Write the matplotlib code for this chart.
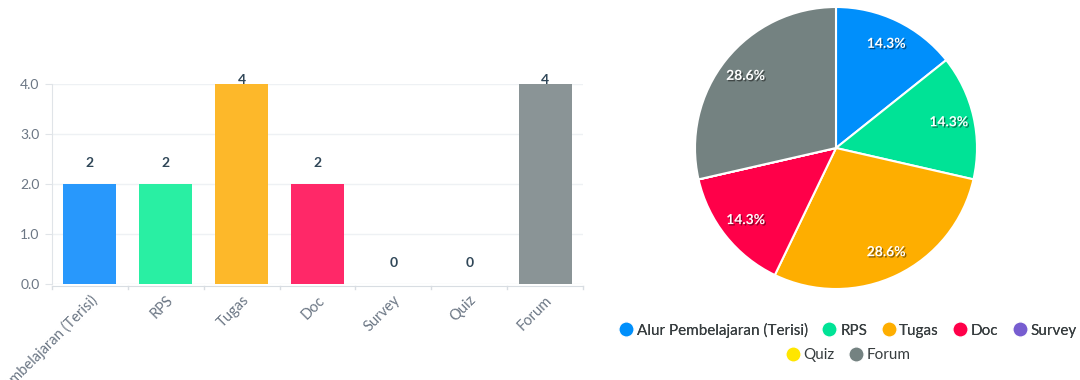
import matplotlib
matplotlib.use('Agg')
import matplotlib.pyplot as plt
import matplotlib.patheffects as pe
from matplotlib.lines import Line2D
import numpy as np

plt.rcParams['font.family'] = ['Lato', 'DejaVu Sans']

## data
categories = ['Alur Pembelajaran (Terisi)', 'RPS', 'Tugas', 'Doc', 'Survey', 'Quiz', 'Forum']
values = [2, 2, 4, 2, 0, 0, 4]
y_ticks = [0.0, 1.0, 2.0, 3.0, 4.0]
bar_colors = ['#2898fc', '#29efa3', '#fdb82a', '#ff2868', '#8a6fd6', '#ffe826', '#8a9496']
pie_colors = ['#008ffb', '#00e396', '#feae00', '#ff0049', '#775dd0', '#ffe600', '#748281']

fig = plt.figure(figsize=(10.8, 3.8), dpi=100)

## bar chart
ax = fig.add_axes([52/1080, 96/380, 531/1080, 200/380])
# spines first (set_position resets the ticks)
for s in ['top', 'right']:
    ax.spines[s].set_visible(False)
ax.spines['left'].set_color('#e0e4e8')
ax.spines['bottom'].set_color('#d8dde2')
ax.spines['bottom'].set_position(('data', -0.04))

x = np.arange(len(categories))
ax.bar(x, values, width=0.7, color=bar_colors)
# tick marks between categories
for b in np.arange(len(categories) + 1) - 0.5:
    ax.plot([b, b], [-0.04, -0.1], color='#d8dde2', lw=1, clip_on=False)
ax.set_xlim(-0.5, len(categories) - 0.5)
ax.set_ylim(0, 4)
ax.set_yticks(y_ticks)
ax.set_yticklabels(['%.1f' % t for t in y_ticks], color='#6b7684', fontsize=10)
ax.set_xticks(x)
ax.set_xticklabels(categories, rotation=45, ha='right', rotation_mode='anchor',
                   color='#6b7684', fontsize=10.5)
ax.tick_params(axis='x', length=0, pad=5)
ax.tick_params(axis='y', length=5, color='#e0e4e8', pad=4)
ax.grid(axis='y', color='#eef1f4', lw=1)
ax.set_axisbelow(True)

for xi, v in zip(x, values):
    ax.text(xi, min(v + 0.42, 4.08), str(v), ha='center', va='center',
            color='#304758', fontsize=10, fontweight='bold', clip_on=False)

## pie chart
pax = fig.add_axes([(836 - 141)/1080, (380 - 148 - 141)/380, 282/1080, 282/380])
pie_vals = [v for v in values]
wedges, _ = pax.pie(pie_vals, colors=pie_colors, startangle=90, counterclock=False,
                    wedgeprops=dict(edgecolor='white', linewidth=1.5))
pax.set_xlim(-1, 1)
pax.set_ylim(-1, 1)
pax.set_aspect('auto')
pax.axis('off')
total = float(sum(pie_vals))
ang0 = 90.0
for v in pie_vals:
    if v == 0:
        continue
    sweep = 360.0 * v / total
    mid = np.deg2rad(ang0 - sweep / 2)
    pax.text(0.82 * np.cos(mid), 0.82 * np.sin(mid), '%.1f%%' % (100 * v / total),
             ha='center', va='center', color='white', fontsize=10, fontweight='bold',
             path_effects=[pe.withSimplePatchShadow(offset=(1, -1), shadow_rgbFace='black', alpha=0.45)])
    ang0 -= sweep

## legend, two centred rows
def mk(c):
    return Line2D([0], [0], marker='o', color='w', markerfacecolor=c, markersize=11)

handles = [mk(c) for c in pie_colors]
leg1 = fig.legend(handles[:5], categories[:5], ncol=5, loc='center',
                  bbox_to_anchor=(847/1080, 1 - 330/380), frameon=False, fontsize=11,
                  handletextpad=0.1, columnspacing=0.8, handlelength=1.2,
                  labelcolor='#373d3f')
leg2 = fig.legend(handles[5:], categories[5:], ncol=2, loc='center',
                  bbox_to_anchor=(847/1080, 1 - 355/380), frameon=False, fontsize=11,
                  handletextpad=0.1, columnspacing=0.8, handlelength=1.2,
                  labelcolor='#373d3f')
fig.add_artist(leg1)

plt.savefig('out.png', dpi=100)
